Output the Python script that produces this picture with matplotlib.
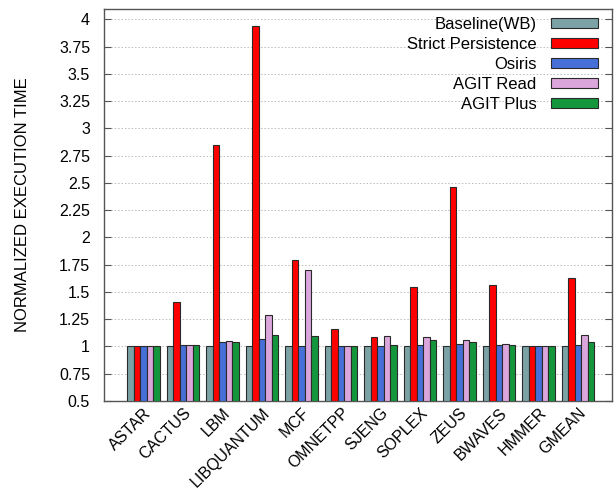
import numpy as np
import matplotlib.pyplot as plt

plt.rcParams['font.family'] = ['Liberation Sans', 'DejaVu Sans']

benchmarks = ['ASTAR', 'CACTUS', 'LBM', 'LIBQUANTUM', 'MCF', 'OMNETPP',
              'SJENG', 'SOPLEX', 'ZEUS', 'BWAVES', 'HMMER', 'GMEAN']
series_names = ['Baseline(WB)', 'Strict Persistence', 'Osiris', 'AGIT Read', 'AGIT Plus']

baseline = [1.0, 1.0, 1.0, 1.0, 1.0, 1.0, 1.0, 1.0, 1.0, 1.0, 1.0, 1.0]
strict = [1.0, 1.41, 2.85, 3.94, 1.79, 1.16, 1.09, 1.545, 2.46, 1.56, 1.0, 1.63]
osiris = [1.0, 1.015, 1.037, 1.07, 1.0, 1.0, 1.0, 1.01, 1.02, 1.015, 1.0, 1.013]
agit_read = [1.0, 1.015, 1.05, 1.29, 1.705, 1.005, 1.095, 1.09, 1.059, 1.02, 1.0, 1.108]
agit_plus = [1.0, 1.015, 1.04, 1.108, 1.10, 1.005, 1.013, 1.056, 1.04, 1.013, 1.0, 1.037]
yticks = [0.5, 0.75, 1, 1.25, 1.5, 1.75, 2, 2.25, 2.5, 2.75, 3, 3.25, 3.5, 3.75, 4]

colors = ['#7ba3a6', '#ff0000', '#4670d8', '#dba6dc', '#14963c']
all_series = [baseline, strict, osiris, agit_read, agit_plus]

fig = plt.figure(figsize=(6.15, 4.96), dpi=100)
ax = fig.add_axes([104 / 615, 1 - 401 / 496, (612 - 104) / 615, (401 - 9) / 496])

x = np.arange(len(benchmarks))
bw = 0.166
for i, (vals, name) in enumerate(zip(all_series, series_names)):
    ax.bar(x + (i - 2) * bw, np.array(vals) - 0.5, bw, bottom=0.5, color=colors[i],
           edgecolor='#2a2a2a', linewidth=0.8, label=name, zorder=3)

ax.set_xlim(-1.0, 11.86)
ax.set_ylim(0.5, 4.094)
ax.set_yticks(yticks)
ax.set_yticklabels(['%g' % v for v in yticks])
ax.grid(axis='y', color='#bbbbbb', linestyle=(0, (1.5, 2)), linewidth=0.7, zorder=0)

ax.set_xticks(x)
ax.set_xticklabels(benchmarks, rotation=45, ha='right', va='top', rotation_mode='anchor')
for lbl in ax.get_xticklabels():
    lbl.set_x(lbl.get_position()[0])
ax.tick_params(axis='x', length=0, pad=3, labelsize=11.5)
ax.tick_params(axis='y', direction='in', length=5, right=True, labelsize=11.5,
               color='#555555', pad=10)
for sp in ax.spines.values():
    sp.set_color('#555555')
    sp.set_linewidth(1.0)

ax.set_ylabel('NORMALIZED EXECUTION TIME', fontsize=12, labelpad=21)

fig.legend(loc='upper right', bbox_to_anchor=(598 / 615, 1 - 17 / 496), frameon=False,
           markerfirst=False, fontsize=12, handlelength=2.8, handleheight=0.5,
           handletextpad=0.9, labelspacing=0.3, borderpad=0, borderaxespad=0)

fig.savefig('out.png', dpi=100)
